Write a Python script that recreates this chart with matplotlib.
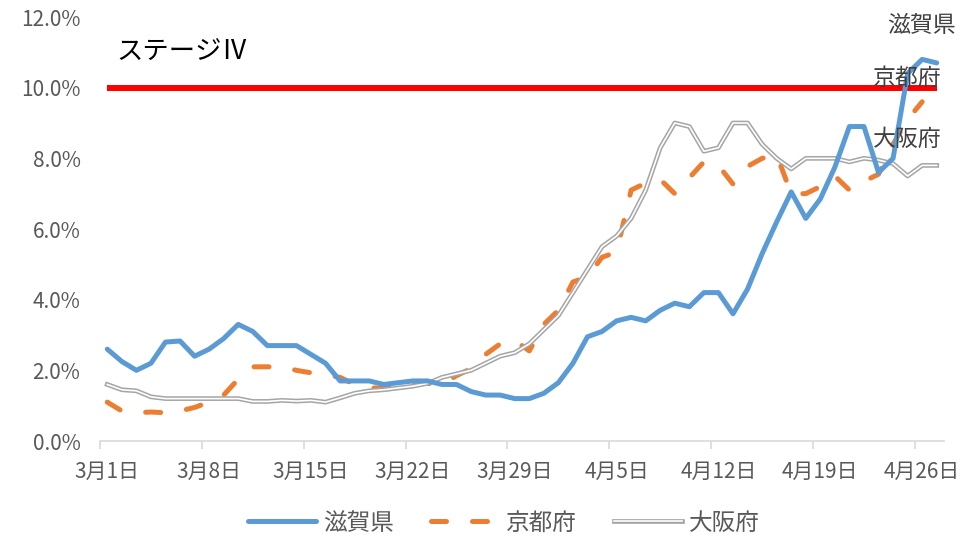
import matplotlib
matplotlib.use("Agg")
import matplotlib.pyplot as plt
from matplotlib.legend_handler import HandlerTuple
import numpy as np
import pandas as pd

plt.rcParams['font.family'] = ['Noto Sans CJK JP', 'DejaVu Sans']

# 日付 (3/1 - 4/27)
dates = pd.date_range('2021-03-01', '2021-04-27')
date_labels = [f"{d.month}月{d.day}日" for d in dates]

# 陽性率 (%)
shiga = [2.6, 2.25, 2.0, 2.2, 2.8, 2.83, 2.4, 2.6, 2.9, 3.3,
         3.1, 2.7, 2.7, 2.7, 2.45, 2.2, 1.7, 1.7, 1.7, 1.6,
         1.65, 1.7, 1.7, 1.6, 1.6, 1.4, 1.3, 1.3, 1.2, 1.2,
         1.35, 1.65, 2.2, 2.95, 3.1, 3.4, 3.5, 3.4, 3.7, 3.9,
         3.8, 4.2, 4.2, 3.6, 4.3, 5.3, 6.2, 7.05, 6.3, 6.85,
         7.75, 8.9, 8.9, 7.6, 8.0, 10.4, 10.8, 10.7]
kyoto = [1.1, 0.85, 0.8, 0.82, 0.8, 0.85, 0.95, 1.1, 1.3, 1.75,
         2.1, 2.1, 2.1, 2.0, 1.93, 1.88, 1.8, 1.6, 1.5, 1.5,
         1.55, 1.65, 1.63, 1.6, 1.85, 2.05, 2.45, 2.75, 2.85, 2.55,
         3.3, 3.7, 4.5, 4.65, 5.2, 5.35, 7.1, 7.3, 7.4, 7.0,
         7.45, 7.9, 7.8, 7.27, 7.77, 8.0, 8.1, 7.0, 7.0, 7.2,
         7.5, 7.1, 7.35, 7.55, 8.4, 9.1, 9.6, np.nan]
osaka = [1.6, 1.45, 1.42, 1.25, 1.2, 1.2, 1.2, 1.2, 1.2, 1.2,
         1.12, 1.12, 1.15, 1.13, 1.15, 1.1, 1.22, 1.35, 1.42, 1.45,
         1.5, 1.55, 1.63, 1.8, 1.9, 2.0, 2.2, 2.4, 2.5, 2.75,
         3.15, 3.55, 4.2, 4.85, 5.5, 5.8, 6.3, 7.1, 8.3, 9.0,
         8.9, 8.2, 8.3, 9.0, 9.0, 8.4, 8.0, 7.7, 8.0, 8.0,
         8.0, 7.9, 8.0, 7.95, 7.85, 7.5, 7.8, 7.8]
stage4 = [10.0] * len(dates)

x = np.arange(len(dates))

fig = plt.figure(figsize=(9.79, 5.40), dpi=100)
ax = fig.add_axes([100 / 979, 99 / 540, 844 / 979, 424 / 540])

# ステージⅣ の基準線
ax.plot(x, stage4, color='#ff0000', lw=4.3, solid_capstyle='butt', zorder=2)

l_shiga, = ax.plot(x, shiga, color='#5b9bd5', lw=3.6, solid_joinstyle='round',
                   solid_capstyle='round', zorder=4)
l_kyoto, = ax.plot(x, kyoto, color='#ed7d31', lw=3.6, dashes=(3, 5.2),
                   dash_capstyle='round', dash_joinstyle='round', zorder=3)
# 二重線 (Excel風)
l_osaka_o, = ax.plot(x, osaka, color='#a5a5a5', lw=3.4, zorder=3)
l_osaka_i, = ax.plot(x, osaka, color='white', lw=1.2, zorder=3)

ax.set_xlim(-0.5, len(dates) - 0.5)
ax.set_ylim(0, 12)

# y軸
ax.set_yticks(np.arange(0, 12.1, 2))
ax.set_yticklabels([f"{v:.1f}%" for v in np.arange(0, 12.1, 2)])
ax.tick_params(axis='y', length=0, pad=14, labelsize=15, labelcolor='#595959')

# x軸: 区切りに目盛り、中央にラベル
ax.set_xticks(np.arange(-0.5, len(dates), 7))
ax.set_xticklabels([])
ax.set_xticks(x[::7], minor=True)
ax.set_xticklabels([date_labels[i] for i in x[::7]], minor=True)
ax.tick_params(axis='x', which='major', length=6, color='#d9d9d9', width=1.2)
ax.tick_params(axis='x', which='minor', length=0, pad=14, labelsize=15,
               labelcolor='#595959')

for s in ['top', 'right', 'left']:
    ax.spines[s].set_visible(False)
ax.spines['bottom'].set_color('#d9d9d9')
ax.spines['bottom'].set_linewidth(1.2)

# ラベル
ax.text(0.6, 11.0, 'ステージⅣ', fontsize=19, color='black', va='center')
ax.text(58.3, 11.77, '滋賀県', fontsize=16.5, color='#404040', ha='right', va='center')
ax.text(57.35, 10.27, '京都府', fontsize=16.5, color='#404040', ha='right', va='center', zorder=5)
ax.text(57.35, 8.52, '大阪府', fontsize=16.5, color='#404040', ha='right', va='center', zorder=5)

leg = fig.legend([l_shiga, l_kyoto, (l_osaka_o, l_osaka_i)],
                 ['滋賀県', '京都府', '大阪府'],
                 handler_map={tuple: HandlerTuple(ndivide=1)},
                 loc='center', bbox_to_anchor=(504 / 979, 1 - 523 / 540),
                 ncol=3, frameon=False, fontsize=17, handlelength=2.85,
                 handletextpad=0.3, columnspacing=1.6)
for t in leg.get_texts():
    t.set_color('#595959')

fig.savefig('out.png', dpi=100)
